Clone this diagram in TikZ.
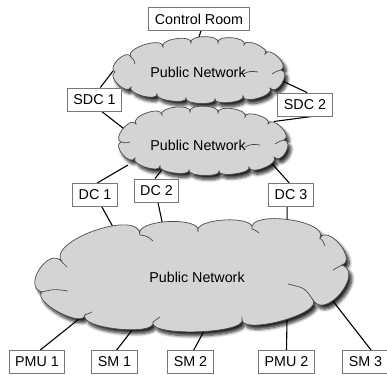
\documentclass[tikz,border=0pt]{standalone}
\usepackage{fontspec}
\setmainfont{Liberation Sans}
\usetikzlibrary{calc,shadows.blur}
\definecolor{cloudgray}{RGB}{212,212,212}
\definecolor{boxline}{RGB}{120,120,120}
\pgfdeclarelayer{bg}
\pgfsetlayers{bg,main}
\begin{document}
\begin{tikzpicture}[x=1pt,y=-1pt,
  box/.style={draw=boxline, fill=white, line width=0.9pt, inner xsep=6pt,
    minimum height=23pt, font=\fontsize{14.3}{16}\selectfont},
  netcloud/.style={draw=black!70, fill=cloudgray, line width=0.7pt,
    blur shadow={shadow xshift=3pt, shadow yshift=-4pt, shadow blur steps=8, shadow blur radius=3pt, shadow opacity=85}},
  fold/.style={draw=black!70, line width=0.7pt},
  label/.style={font=\fontsize{14.3}{16}\selectfont, inner sep=0pt},
  link/.style={line width=1.1pt, black}]
\useasboundingbox (0,0) rectangle (387,374);

% ---------- cloud 1 ----------
\path[netcloud] (115,72)
 .. controls ($(115,72)!10pt!110:(131,57)$) and ($(131,57)!10pt!-110:(115,72)$) .. (131,57)
 .. controls ($(131,57)!11pt!110:(163,47)$) and ($(163,47)!11pt!-110:(131,57)$) .. (163,47)
 .. controls ($(163,47)!9pt!110:(191,43)$) and ($(191,43)!9pt!-110:(163,47)$) .. (191,43)
 .. controls ($(191,43)!9pt!110:(218,43)$) and ($(218,43)!9pt!-110:(191,43)$) .. (218,43)
 .. controls ($(218,43)!9pt!110:(244,45)$) and ($(244,45)!9pt!-110:(218,43)$) .. (244,45)
 .. controls ($(244,45)!8pt!110:(265,54)$) and ($(265,54)!8pt!-110:(244,45)$) .. (265,54)
 .. controls ($(265,54)!10pt!110:(281,70)$) and ($(281,70)!10pt!-110:(265,54)$) .. (281,70)
 .. controls ($(281,70)!11pt!110:(270,88)$) and ($(270,88)!11pt!-110:(281,70)$) .. (270,88)
 .. controls ($(270,88)!9pt!110:(243,96)$) and ($(243,96)!9pt!-110:(270,88)$) .. (243,96)
 .. controls ($(243,96)!7pt!110:(215,99)$) and ($(215,99)!7pt!-110:(243,96)$) .. (215,99)
 .. controls ($(215,99)!7pt!110:(186,98)$) and ($(186,98)!7pt!-110:(215,99)$) .. (186,98)
 .. controls ($(186,98)!7pt!110:(157,94)$) and ($(157,94)!7pt!-110:(186,98)$) .. (157,94)
 .. controls ($(157,94)!8pt!110:(131,87)$) and ($(131,87)!8pt!-110:(157,94)$) .. (131,87)
 .. controls ($(131,87)!10pt!110:(115,72)$) and ($(115,72)!10pt!-110:(131,87)$) .. (115,72) -- cycle;
\draw[fold] (243,74) .. controls (250,71) .. (258,72);
\draw[fold] (281,70) .. controls (277,71) .. (272,74);
\draw[fold] (131,57) .. controls (134,60) .. (135,64);
\node[label] (t1) at (198,72) {Public Network};

% ---------- cloud 2 ----------
\path[netcloud] (121,142)
 .. controls ($(121,142)!10pt!110:(136,124)$) and ($(136,124)!10pt!-110:(121,142)$) .. (136,124)
 .. controls ($(136,124)!10pt!110:(162,115)$) and ($(162,115)!10pt!-110:(136,124)$) .. (162,115)
 .. controls ($(162,115)!9pt!110:(190,112)$) and ($(190,112)!9pt!-110:(162,115)$) .. (190,112)
 .. controls ($(190,112)!9pt!110:(218,113)$) and ($(218,113)!9pt!-110:(190,112)$) .. (218,113)
 .. controls ($(218,113)!9pt!110:(245,117)$) and ($(245,117)!9pt!-110:(218,113)$) .. (245,117)
 .. controls ($(245,117)!8pt!110:(268,124)$) and ($(268,124)!8pt!-110:(245,117)$) .. (268,124)
 .. controls ($(268,124)!10pt!110:(284,140)$) and ($(284,140)!10pt!-110:(268,124)$) .. (284,140)
 .. controls ($(284,140)!11pt!110:(274,157)$) and ($(274,157)!11pt!-110:(284,140)$) .. (274,157)
 .. controls ($(274,157)!9pt!110:(249,167)$) and ($(249,167)!9pt!-110:(274,157)$) .. (249,167)
 .. controls ($(249,167)!7pt!110:(219,171)$) and ($(219,171)!7pt!-110:(249,167)$) .. (219,171)
 .. controls ($(219,171)!7pt!110:(189,170)$) and ($(189,170)!7pt!-110:(219,171)$) .. (189,170)
 .. controls ($(189,170)!7pt!110:(160,166)$) and ($(160,166)!7pt!-110:(189,170)$) .. (160,166)
 .. controls ($(160,166)!8pt!110:(135,158)$) and ($(135,158)!8pt!-110:(160,166)$) .. (135,158)
 .. controls ($(135,158)!10pt!110:(121,142)$) and ($(121,142)!10pt!-110:(135,158)$) .. (121,142) -- cycle;
\draw[fold] (245,147) .. controls (252,144) .. (260,145);
\draw[fold] (284,140) .. controls (280,141) .. (275,144);
\draw[fold] (121,142) .. controls (126,143) .. (130,142);
\node[label] (t2) at (198,145) {Public Network};

% ---------- cloud 3 ----------
\path[netcloud] (62,262)
 .. controls ($(62,262)!27pt!110:(140,235)$) and ($(140,235)!27pt!-110:(62,262)$) .. (140,235)
 .. controls ($(140,235)!17pt!110:(198,232)$) and ($(198,232)!17pt!-110:(140,235)$) .. (198,232)
 .. controls ($(198,232)!15pt!110:(252,229)$) and ($(252,229)!15pt!-110:(198,232)$) .. (252,229)
 .. controls ($(252,229)!20pt!110:(320,238)$) and ($(320,238)!20pt!-110:(252,229)$) .. (320,238)
 .. controls ($(320,238)!16pt!110:(342,265)$) and ($(342,265)!16pt!-110:(320,238)$) .. (342,265)
 .. controls ($(342,265)!24pt!110:(313,300)$) and ($(313,300)!24pt!-110:(342,265)$) .. (313,300)
 .. controls ($(313,300)!17pt!110:(242,319)$) and ($(242,319)!17pt!-110:(313,300)$) .. (242,319)
 .. controls ($(242,319)!16pt!110:(153,322)$) and ($(153,322)!16pt!-110:(242,319)$) .. (153,322)
 .. controls ($(153,322)!15pt!110:(85,315)$) and ($(85,315)!15pt!-110:(153,322)$) .. (85,315)
 .. controls ($(85,315)!14pt!110:(42,292)$) and ($(42,292)!14pt!-110:(85,315)$) .. (42,292)
 .. controls ($(42,292)!21pt!110:(62,262)$) and ($(62,262)!21pt!-110:(42,292)$) .. (62,262) -- cycle;
\draw[fold] (42,292) .. controls (54,289) .. (68,291);
\draw[fold] (62,262) .. controls (65,264) .. (67,267);
\draw[fold] (140,235) .. controls (147,236) .. (153,241);
\draw[fold] (252,229) .. controls (255,230) .. (259,233);
\draw[fold] (320,238) .. controls (323,241) .. (325,246);
\draw[fold] (342,265) .. controls (338,268) .. (333,270);
\draw[fold] (313,300) .. controls (305,288) .. (288,284);
\draw[fold] (153,322) .. controls (156,319) .. (160,317);
\draw[fold] (85,315) .. controls (89,313) .. (92,312);
\node[label] (t3) at (197,277) {Public Network};

% ---------- boxes ----------
\node[box] (cr) at (199,19) {Control Room};
\node[box] (sdc1) at (94.5,99.5) {SDC 1};
\node[box] (sdc2) at (305,104.5) {SDC 2};
\node[box] (dc1) at (95,195) {DC 1};
\node[box] (dc2) at (156.5,190.5) {DC 2};
\node[box] (dc3) at (291,195) {DC 3};
\node[box] (pmu1) at (37,362) {PMU 1};
\node[box] (sm1) at (114.5,362) {SM 1};
\node[box] (sm2) at (190.5,362) {SM 2};
\node[box] (pmu2) at (286.5,362) {PMU 2};
\node[box] (sm3) at (365.5,362) {SM 3};

% ---------- connector ends on the clouds ----------
\coordinate (e1cr) at (196,46);
\coordinate (e1s1) at (113,71);
\coordinate (e1s2) at (278,79);
\coordinate (e2s1) at (128,132);
\coordinate (e2s2) at (274,121.5);
\coordinate (e2d1) at (128,165);
\coordinate (e2d2) at (164,167);
\coordinate (e2d3) at (266,157);
\coordinate (e3d1) at (118,236);
\coordinate (e3d2) at (164,231);
\coordinate (e3d3) at (287,226);
\coordinate (e3p1) at (84,315);
\coordinate (e3m1) at (133,329);
\coordinate (e3m2) at (203,333);
\coordinate (e3p2) at (287,319);
\coordinate (e3m3) at (329,296);

\begin{pgfonlayer}{bg}
\draw[link] ([xshift=2pt]cr.south) -- (e1cr);
\draw[link] (sdc1.64) -- (e1s1);
\draw[link] (sdc2.80) -- (e1s2);
\draw[link] (sdc1.301) -- (e2s1);
\draw[link] ([xshift=7pt]sdc2.south) -- (e2s2);
\draw[link] (dc1.80) -- (e2d1);
\draw[link] (dc2.97) -- (e2d2);
\draw[link] (dc3.98) -- (e2d3);
\draw[link] (dc1.300) -- (e3d1);
\draw[link] (dc2.277) -- (e3d2);
\draw[link] (dc3.252) -- (e3d3);
\draw[link] (pmu1.75) -- (e3p1);
\draw[link] (sm1.80) -- (e3m1);
\draw[link] (sm2.75) -- (e3m2);
\draw[link] (pmu2.90) -- (e3p2);
\draw[link] (sm3.65) -- (e3m3);
\end{pgfonlayer}
\end{tikzpicture}
\end{document}
